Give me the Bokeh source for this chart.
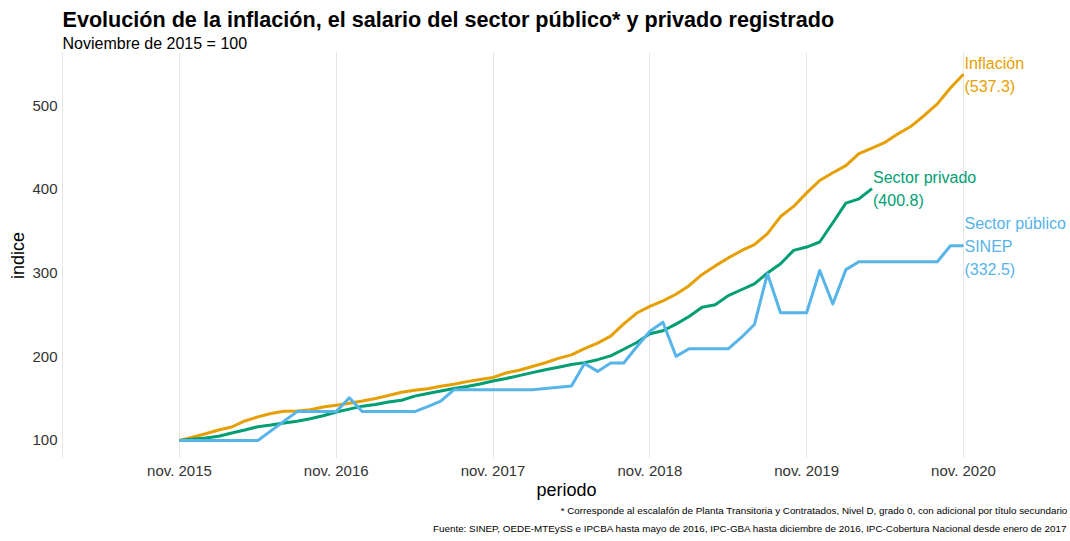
import pandas as pd
from bokeh.plotting import figure
from bokeh.models import FixedTicker, Range1d, ColumnDataSource, Title
from bokeh.core.properties import value
from bokeh.embed import file_html
from bokeh.resources import INLINE

# ---------------- data ----------------
periodos = pd.date_range("2015-11-01", "2020-11-01", freq="MS")

inflacion = [100.0, 103.9, 108.1, 112.5, 116.1, 123.3, 128.2, 132.2, 134.8, 135.1,
             136.7, 139.9, 142.1, 144.5, 147.1, 150.2, 153.7, 157.7, 160.0, 161.9,
             164.8, 167.1, 170.3, 172.9, 175.2, 180.7, 183.9, 188.4, 192.8, 198.0,
             202.2, 209.7, 216.2, 224.6, 239.3, 252.2, 260.2, 266.8, 274.6, 284.9,
             298.3, 308.5, 318.0, 326.6, 333.8, 347.0, 367.4, 379.5, 395.7, 410.5,
             419.7, 428.2, 442.5, 449.1, 456.1, 466.3, 475.3, 488.1, 502.0, 520.9,
             537.3]

sector_privado = [100.0, 101.5, 103.0, 105.0, 109.0, 112.5, 116.5, 118.5, 121.0, 123.0,
                  126.0, 129.5, 134.0, 137.5, 141.0, 143.0, 146.0, 148.0, 153.0, 156.0,
                  159.0, 162.0, 164.5, 167.5, 171.0, 174.0, 177.5, 181.0, 184.5, 187.5,
                  190.7, 193.0, 196.5, 201.0, 209.0, 217.0, 227.5, 231.0, 239.0, 248.0,
                  259.0, 262.0, 273.0, 280.0, 287.0, 300.0, 311.0, 327.0, 331.0, 337.0,
                  360.0, 383.5, 388.5, 400.8]

sector_publico = [100.0, 100.0, 100.0, 100.0, 100.0, 100.0, 100.0, 111.5, 123.0, 134.5,
                  134.5, 134.5, 134.5, 151.0, 134.5, 134.5, 134.5, 134.5, 134.5, 140.5,
                  147.0, 160.5, 160.5, 160.5, 160.5, 160.5, 160.5, 160.5, 162.0, 163.5,
                  165.0, 192.0, 182.5, 192.5, 192.5, 212.0, 230.5, 241.3, 200.5, 209.5,
                  209.5, 209.5, 209.5, 223.0, 238.5, 299.0, 252.5, 252.5, 252.5, 303.0,
                  263.0, 304.0, 313.5, 313.5, 313.5, 313.5, 313.5, 313.5, 313.5, 332.5,
                  332.5]

serie_nombres = [["Inflación"], ["Sector privado"], ["Sector público", "SINEP"]]
serie_colores = ["#E69F00", "#009E73", "#56B4E9"]

y_ticks = [100, 200, 300, 400, 500]
x_tick_periodos = ["2015-11", "2016-11", "2017-11", "2018-11", "2019-11", "2020-11"]
x_tick_labels = ["nov. 2015", "nov. 2016", "nov. 2017", "nov. 2018", "nov. 2019", "nov. 2020"]

titulo = "Evolución de la inflación, el salario del sector público* y privado registrado"
subtitulo = "Noviembre de 2015 = 100"
nota = "* Corresponde al escalafón de Planta Transitoria y Contratados, Nivel D, grado 0, con adicional por título secundario"
fuente = ("Fuente: SINEP, OEDE-MTEySS e IPCBA hasta mayo de 2016, IPC-GBA hasta diciembre de 2016, "
          "IPC-Cobertura Nacional desde enero de 2017")

# ---------------- helpers ----------------
def month_index(ts):
    return (ts.year - 2015) * 12 + ts.month - 11

xs = [month_index(t) for t in periodos]
x_tick_pos = [month_index(pd.Timestamp(s + "-01")) for s in x_tick_periodos]

FONT = "Liberation Sans"

p = figure(width=1070, height=541, output_backend="svg", toolbar_location=None,
           x_range=Range1d(-8.95, 68.19), y_range=Range1d(78.5, 563.3),
           min_border_left=62, min_border_right=0, min_border_top=52, min_border_bottom=83)
p.outline_line_color = None
p.background_fill_color = "white"
p.border_fill_color = "white"

# grids
p.xgrid.ticker = FixedTicker(ticks=x_tick_pos)
p.xgrid.grid_line_color = "#e5e5e5"
p.xgrid.grid_line_width = 1
p.ygrid.grid_line_color = None

# axes
p.xaxis.ticker = FixedTicker(ticks=x_tick_pos)
p.xaxis.major_label_overrides = {pos: lab for pos, lab in zip(x_tick_pos, x_tick_labels)}
p.yaxis.ticker = FixedTicker(ticks=y_ticks)
for ax in (p.xaxis[0], p.yaxis[0]):
    ax.major_tick_line_color = None
    ax.minor_tick_line_color = None
    ax.major_tick_out = 0
    ax.major_tick_in = 0
    ax.minor_tick_out = 0
    ax.minor_tick_in = 0
    ax.major_label_text_font = FONT
    ax.major_label_text_font_size = "15px"
    ax.major_label_text_color = "#333333"
    ax.axis_label_text_font = FONT
    ax.axis_label_text_font_size = "18px"
    ax.axis_label_text_font_style = "normal"
    ax.axis_label_text_color = "#000000"
p.xaxis.axis_line_color = None
p.yaxis.axis_line_color = "#e5e5e5"
p.xaxis.axis_label = "periodo"
p.yaxis.axis_label = "indice"
p.xaxis.major_label_standoff = 3
p.yaxis.major_label_standoff = 5
p.xaxis.axis_label_standoff = -2
p.yaxis.axis_label_standoff = 1

# lines
series = [inflacion, sector_privado, sector_publico]
for vals, col in zip(series, serie_colores):
    src = ColumnDataSource(dict(x=xs[:len(vals)], y=vals))
    p.line("x", "y", source=src, line_color=col, line_width=3, line_join="round")

# end labels
LINE_H = 23
for vals, col, nombres in zip(series, serie_colores, serie_nombres):
    lines = nombres + ["(%.1f)" % vals[-1]]
    n = len(lines)
    xe = xs[len(vals) - 1]
    for i, t in enumerate(lines):
        off = (i - (n - 1) / 2) * LINE_H + 0.5
        p.text(x=[xe], y=[vals[-1]], text=[t], x_offset=1, y_offset=off,
               text_font=value(FONT), text_font_size="16px", text_color=col,
               text_align="left", text_baseline="middle")

# title / subtitle (first added sits closest to the frame)
p.add_layout(Title(text=subtitulo, align="left", offset=0, standoff=1.5,
                   text_font=FONT, text_font_size="16px", text_font_style="normal",
                   text_color="#000000"), "above")
p.add_layout(Title(text=titulo, align="left", offset=0, standoff=0,
                   text_font=FONT, text_font_size="21.6px", text_font_style="bold",
                   text_color="#000000"), "above")

# captions below the x axis
p.add_layout(Title(text=nota, align="right", offset=3, standoff=0,
                   text_font=FONT, text_font_size="9.85px", text_font_style="normal",
                   text_color="#000000"), "below")
p.add_layout(Title(text=fuente, align="right", offset=3, standoff=10,
                   text_font=FONT, text_font_size="9.85px", text_font_style="normal",
                   text_color="#000000"), "below")

open("out.html", "w").write(file_html(p, INLINE))
